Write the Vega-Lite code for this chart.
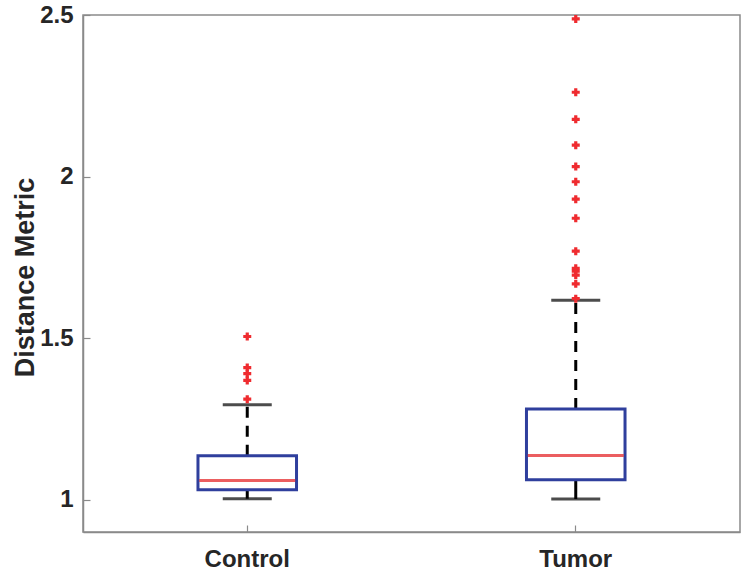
{
  "$schema": "https://vega.github.io/schema/vega-lite/v6.json",
  "width": 657,
  "height": 517,
  "autosize": {"type": "none"},
  "padding": {"left": 83, "top": 15, "right": 10, "bottom": 48},
  "background": "white",
  "config": {
    "view": {"stroke": "#8a8a8a", "strokeWidth": 1.5},
    "font": "Liberation Sans",
    "axis": {
      "grid": false,
      "domainColor": "#8a8a8a",
      "domainWidth": 1.5,
      "tickColor": "#8a8a8a",
      "tickWidth": 1.2,
      "labelFont": "Liberation Sans",
      "labelFontWeight": "bold",
      "labelFontSize": 24,
      "labelColor": "#262626",
      "titleFont": "Liberation Sans",
      "titleFontWeight": "bold",
      "titleColor": "#262626"
    }
  },
  "resolve": {"axis": {"x": "independent", "y": "independent"}},
  "datasets": {
    "boxes": [
      {"group": "Control", "lower": 1.003, "q1": 1.031, "median": 1.059, "q3": 1.136, "upper": 1.294},
      {"group": "Tumor", "lower": 1.002, "q1": 1.062, "median": 1.137, "q3": 1.281, "upper": 1.617}
    ],
    "outliers": [
      {"group": "Control", "value": 1.505},
      {"group": "Control", "value": 1.409},
      {"group": "Control", "value": 1.39},
      {"group": "Control", "value": 1.369},
      {"group": "Control", "value": 1.311},
      {"group": "Tumor", "value": 2.488},
      {"group": "Tumor", "value": 2.261},
      {"group": "Tumor", "value": 2.177},
      {"group": "Tumor", "value": 2.097},
      {"group": "Tumor", "value": 2.031},
      {"group": "Tumor", "value": 1.984},
      {"group": "Tumor", "value": 1.93},
      {"group": "Tumor", "value": 1.871},
      {"group": "Tumor", "value": 1.769},
      {"group": "Tumor", "value": 1.716},
      {"group": "Tumor", "value": 1.707},
      {"group": "Tumor", "value": 1.695},
      {"group": "Tumor", "value": 1.668},
      {"group": "Tumor", "value": 1.622}
    ]
  },
  "encoding": {
    "x": {
      "field": "group",
      "type": "nominal",
      "sort": ["Control", "Tumor"],
      "scale": {"type": "band", "paddingInner": 0.7, "paddingOuter": 0.35},
      "axis": null
    }
  },
  "layer": [
    {
      "data": {"name": "boxes"},
      "mark": {"type": "rule", "color": "black", "strokeWidth": 3, "strokeDash": [11, 8]},
      "encoding": {
        "x": {
          "field": "group",
          "type": "nominal",
          "sort": ["Control", "Tumor"],
          "axis": {"title": null, "labelAngle": 0, "ticks": false, "labelPadding": 15}
        },
        "y": {
          "field": "q3",
          "type": "quantitative",
          "scale": {"domain": [0.9, 2.5], "nice": false, "zero": false},
          "axis": {
            "title": "Distance Metric",
            "titleFontSize": 27,
            "values": [1, 1.5, 2, 2.5],
            "format": "~g",
            "ticks": false,
            "labelPadding": 10,
            "titleAngle": 270,
            "titleBaseline": "alphabetic",
            "titleX": -50,
            "titleY": 262
          }
        },
        "y2": {"field": "upper"}
      }
    },
    {
      "data": {"name": "boxes"},
      "mark": {"type": "rule", "color": "black", "strokeWidth": 3},
      "encoding": {
        "y": {"field": "lower", "type": "quantitative", "axis": null},
        "y2": {"field": "q1"}
      }
    },
    {
      "data": {"name": "boxes"},
      "mark": {"type": "bar", "fill": "white", "stroke": "#2f3f9d", "strokeWidth": 3},
      "encoding": {
        "y": {"field": "q1", "type": "quantitative", "axis": null},
        "y2": {"field": "q3"}
      }
    },
    {
      "data": {"name": "boxes"},
      "mark": {"type": "tick", "color": "#e3191c", "size": 96, "thickness": 3, "orient": "horizontal"},
      "encoding": {
        "y": {"field": "median", "type": "quantitative", "axis": null}
      }
    },
    {
      "data": {"name": "boxes"},
      "mark": {"type": "tick", "color": "black", "size": 49, "thickness": 3, "orient": "horizontal"},
      "encoding": {
        "y": {"field": "upper", "type": "quantitative", "axis": null}
      }
    },
    {
      "data": {"name": "boxes"},
      "mark": {"type": "tick", "color": "black", "size": 49, "thickness": 3, "orient": "horizontal"},
      "encoding": {
        "y": {"field": "lower", "type": "quantitative", "axis": null}
      }
    },
    {
      "data": {"name": "outliers"},
      "mark": {"type": "point", "shape": "cross", "filled": true, "color": "#ef2b2f", "size": 64, "opacity": 1},
      "encoding": {
        "x": {
          "field": "group",
          "type": "nominal",
          "sort": ["Control", "Tumor"],
          "axis": {"orient": "top", "offset": -517, "title": null, "labels": false, "domain": false, "tickSize": 7}
        },
        "y": {
          "field": "value",
          "type": "quantitative",
          "axis": {"orient": "right", "offset": -657, "title": null, "labels": false, "domain": false, "tickSize": 7, "values": [1, 1.5, 2, 2.5]}
        }
      }
    }
  ]
}
